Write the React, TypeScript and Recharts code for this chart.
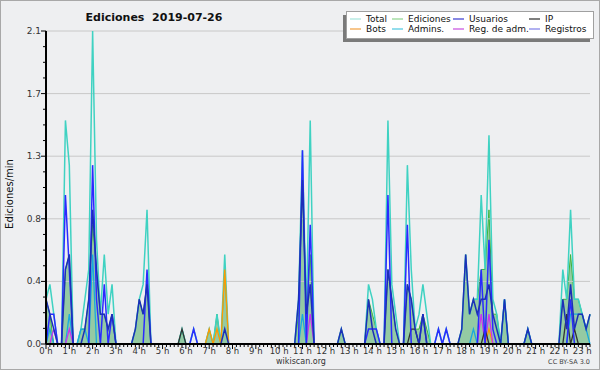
import { ComposedChart, Area, Line, XAxis, YAxis, ReferenceLine } from 'recharts';

// 10-minute slots from 0:00 to 23:20 (141 points), values in edits/min
const total = [
  0.3, 0.4, 0.2, 0, 0, 1.5, 1.2, 0, 0, 0.1, 0.3, 0.5,
  2.1, 0.7, 0.2, 0.6, 0.2, 0.4, 0, 0, 0, 0, 0, 0.1,
  0.3, 0.4, 0.9, 0, 0, 0, 0, 0, 0, 0, 0, 0.1,
  0, 0, 0.1, 0, 0, 0, 0.1, 0, 0.2, 0, 0.6, 0,
  0, 0, 0, 0, 0, 0, 0, 0, 0, 0, 0, 0,
  0, 0, 0, 0, 0, 0.3, 1.3, 0.2, 1.5, 0, 0, 0,
  0, 0, 0, 0, 0.1, 0, 0, 0, 0, 0, 0, 0.4,
  0.3, 0.1, 0, 0, 1.5, 0.4, 0.2, 0, 0, 1.2, 0.5, 0.1,
  0.2, 0.4, 0.2, 0, 0, 0.1, 0, 0.1, 0, 0, 0, 0.1,
  0.6, 0.2, 0.3, 0.3, 1.0, 0.5, 1.4, 0.3, 0.2, 0, 0.3, 0,
  0, 0, 0, 0, 0.1, 0, 0, 0, 0, 0, 0, 0,
  0, 0.5, 0.3, 0.9, 0.3, 0.3, 0.2, 0.1, 0.2,
];

const ediciones = [
  0.3, 0.2, 0, 0, 0, 0.5, 0.6, 0, 0, 0.1, 0.1, 0.3,
  0.8, 0.5, 0.2, 0.2, 0.1, 0.2, 0, 0, 0, 0, 0, 0.1,
  0.3, 0.2, 0.4, 0, 0, 0, 0, 0, 0, 0, 0, 0.1,
  0, 0, 0, 0, 0, 0, 0.1, 0, 0.2, 0, 0.5, 0,
  0, 0, 0, 0, 0, 0, 0, 0, 0, 0, 0, 0,
  0, 0, 0, 0, 0, 0.2, 1.1, 0.2, 0.6, 0, 0, 0,
  0, 0, 0, 0, 0.1, 0, 0, 0, 0, 0, 0, 0.3,
  0.2, 0.1, 0, 0, 0.5, 0.3, 0.1, 0, 0, 0.4, 0.3, 0.1,
  0.1, 0.2, 0.1, 0, 0, 0, 0, 0, 0, 0, 0, 0.1,
  0.6, 0.2, 0.3, 0.3, 0.5, 0.5, 0.9, 0.2, 0.2, 0, 0.3, 0,
  0, 0, 0, 0, 0.1, 0, 0, 0, 0, 0, 0, 0,
  0, 0.3, 0.3, 0.6, 0.3, 0.3, 0.2, 0.1, 0.2,
];

const usuarios = [
  0.3, 0.2, 0.1, 0, 0, 0.5, 0.6, 0, 0, 0, 0.1, 0.3,
  0.9, 0.5, 0.2, 0.2, 0.1, 0.2, 0, 0, 0, 0, 0, 0.1,
  0.3, 0.2, 0.4, 0, 0, 0, 0, 0, 0, 0, 0, 0,
  0, 0, 0, 0, 0, 0, 0, 0, 0, 0, 0.1, 0,
  0, 0, 0, 0, 0, 0, 0, 0, 0, 0, 0, 0,
  0, 0, 0, 0, 0, 0.3, 1.1, 0.2, 0.4, 0, 0, 0,
  0, 0, 0, 0, 0.1, 0, 0, 0, 0, 0, 0, 0.3,
  0.1, 0, 0, 0, 0.5, 0.3, 0.1, 0, 0, 0.4, 0.3, 0.1,
  0, 0.2, 0, 0, 0, 0, 0, 0, 0, 0, 0, 0.1,
  0.6, 0.2, 0.3, 0.2, 0.3, 0.3, 0.4, 0.2, 0.1, 0, 0.3, 0,
  0, 0, 0, 0, 0.1, 0, 0, 0, 0, 0, 0, 0,
  0, 0.3, 0.1, 0.4, 0.1, 0.2, 0.2, 0.1, 0.2,
];

const registros = [
  0, 0.2, 0.2, 0, 0, 1.0, 0.5, 0, 0, 0, 0, 0,
  1.2, 0.3, 0, 0.4, 0, 0.2, 0, 0, 0, 0, 0, 0,
  0, 0, 0.5, 0, 0, 0, 0, 0, 0, 0, 0, 0,
  0, 0, 0.1, 0, 0, 0, 0, 0, 0, 0, 0, 0,
  0, 0, 0, 0, 0, 0, 0, 0, 0, 0, 0, 0,
  0, 0, 0, 0, 0, 0, 1.3, 0, 0.8, 0, 0, 0,
  0, 0, 0, 0, 0, 0, 0, 0, 0, 0, 0, 0.1,
  0.1, 0.1, 0, 0, 1.0, 0, 0, 0, 0, 0.8, 0, 0,
  0, 0.2, 0, 0, 0, 0.1, 0, 0.1, 0, 0, 0, 0,
  0, 0, 0, 0, 0.5, 0, 0.7, 0.1, 0, 0, 0, 0,
  0, 0, 0, 0, 0, 0, 0, 0, 0, 0, 0, 0,
  0, 0, 0, 0.3, 0, 0, 0, 0, 0,
];

const ip = [
  0, 0, 0, 0, 0, 0, 0, 0, 0, 0, 0, 0,
  0, 0, 0, 0, 0, 0, 0, 0, 0, 0, 0, 0,
  0, 0, 0, 0, 0, 0, 0, 0, 0, 0, 0, 0.1,
  0, 0, 0, 0, 0, 0, 0, 0, 0, 0, 0, 0,
  0, 0, 0, 0, 0, 0, 0, 0, 0, 0, 0, 0,
  0, 0, 0, 0, 0, 0, 0, 0, 0, 0, 0, 0,
  0, 0, 0, 0, 0, 0, 0, 0, 0, 0, 0, 0,
  0, 0, 0, 0, 0, 0, 0, 0, 0, 0, 0.1, 0.1,
  0, 0, 0, 0, 0, 0, 0, 0, 0, 0, 0, 0,
  0, 0, 0, 0, 0, 0.1, 0, 0, 0, 0, 0, 0,
  0, 0, 0, 0, 0, 0, 0, 0, 0, 0, 0, 0,
  0, 0, 0.2, 0, 0.1, 0, 0, 0, 0,
];

const admins = [
  0, 0.1, 0, 0, 0, 0, 0.2, 0, 0, 0.1, 0.1, 0,
  0.6, 0, 0, 0, 0, 0, 0, 0, 0, 0, 0, 0,
  0, 0, 0, 0, 0, 0, 0, 0, 0, 0, 0, 0,
  0, 0, 0, 0, 0, 0, 0, 0, 0, 0, 0, 0,
  0, 0, 0, 0, 0, 0, 0, 0, 0, 0, 0, 0,
  0, 0, 0, 0, 0, 0, 0.2, 0, 0, 0, 0, 0,
  0, 0, 0, 0, 0, 0, 0, 0, 0, 0, 0, 0,
  0, 0, 0, 0, 0, 0, 0, 0, 0, 0, 0, 0,
  0, 0, 0, 0, 0, 0, 0, 0, 0, 0, 0, 0,
  0, 0, 0.1, 0, 0, 0, 0, 0, 0, 0, 0.3, 0,
  0, 0, 0, 0, 0.1, 0, 0, 0, 0, 0, 0, 0,
  0, 0, 0, 0.2, 0.2, 0.2, 0.2, 0.1, 0,
];

const bots = [
  0, 0, 0, 0, 0, 0, 0, 0, 0, 0, 0, 0,
  0, 0, 0, 0, 0, 0, 0, 0, 0, 0, 0, 0,
  0, 0, 0, 0, 0, 0, 0, 0, 0, 0, 0, 0,
  0, 0, 0, 0, 0, 0, 0.1, 0, 0.1, 0, 0.5, 0,
  0, 0, 0, 0, 0, 0, 0, 0, 0, 0, 0, 0,
  0, 0, 0, 0, 0, 0, 0, 0, 0, 0, 0, 0,
  0, 0, 0, 0, 0, 0, 0, 0, 0, 0, 0, 0,
  0, 0, 0, 0, 0, 0, 0, 0, 0, 0, 0, 0,
  0, 0, 0, 0, 0, 0, 0, 0, 0, 0, 0, 0,
  0, 0, 0, 0, 0, 0, 0.1, 0, 0, 0, 0, 0,
  0, 0, 0, 0, 0, 0, 0, 0, 0, 0, 0, 0,
  0, 0, 0, 0, 0, 0, 0, 0, 0,
];

const regAdm = [
  0, 0, 0.1, 0, 0, 0, 0.1, 0, 0, 0, 0, 0,
  0, 0, 0, 0, 0, 0, 0, 0, 0, 0, 0, 0,
  0, 0, 0, 0, 0, 0, 0, 0, 0, 0, 0, 0,
  0, 0, 0, 0, 0, 0, 0, 0, 0, 0, 0, 0,
  0, 0, 0, 0, 0, 0, 0, 0, 0, 0, 0, 0,
  0, 0, 0, 0, 0, 0, 0, 0, 0.2, 0, 0, 0,
  0, 0, 0, 0, 0, 0, 0, 0, 0, 0, 0, 0,
  0, 0, 0, 0, 0, 0, 0, 0, 0, 0, 0, 0,
  0, 0, 0, 0, 0, 0, 0, 0, 0, 0, 0, 0,
  0, 0, 0, 0, 0.2, 0, 0.2, 0, 0, 0, 0, 0,
  0, 0, 0, 0, 0, 0, 0, 0, 0, 0, 0, 0,
  0, 0, 0, 0, 0, 0, 0, 0, 0,
];

const hourLabels = [
  '0 h', '1 h', '2 h', '3 h', '4 h', '5 h', '6 h', '7 h', '8 h', '9 h', '10 h', '11 h',
  '12 h', '13 h', '14 h', '15 h', '16 h', '17 h', '18 h', '19 h', '20 h', '21 h', '22 h', '23 h',
];
const yMajor = [0, 0.42, 0.84, 1.26, 1.68, 2.1];
const yLabels = ['0.0', '0.4', '0.8', '1.3', '1.7', '2.1'];

const legendItems = [
  { name: 'Total', color: '#a6e4dc' },
  { name: 'Ediciones', color: '#8ed48e' },
  { name: 'Usuarios', color: '#3a3ad0' },
  { name: 'IP', color: '#2a2a2a' },
  { name: 'Bots', color: '#f2a040' },
  { name: 'Admins.', color: '#4cc6e0' },
  { name: 'Reg. de adm.', color: '#c64ee0' },
  { name: 'Registros', color: '#7d7de8' },
];

const data = total.map((v, i) => ({
  i,
  total: v,
  ediciones: ediciones[i],
  usuarios: usuarios[i],
  registros: registros[i],
  ip: ip[i],
  admins: admins[i],
  bots: bots[i],
  regAdm: regAdm[i],
}));

const xTicks = data.map((d) => d.i);
const yTicks = Array.from({ length: 21 }, (_, k) => +(k * 0.105).toFixed(3));

const FONT = 'DejaVu Sans, sans-serif';

const XTick = ({ x, y, payload }: any) => {
  const v = payload.value;
  const hour = v % 6 === 0;
  return (
    <g>
      <line x1={x} x2={x} y1={y} y2={y + (hour ? 5 : 3)} stroke="#000" />
      {hour && (
        <text x={x} y={y + 10} textAnchor="middle" fontSize={8.5} fontFamily={FONT} fill="#333">
          {hourLabels[v / 6]}
        </text>
      )}
    </g>
  );
};

const YTick = ({ x, y, index }: any) => {
  const major = index % 4 === 0;
  return (
    <g>
      <line x1={x - (major ? 5 : 3)} x2={x} y1={y} y2={y} stroke="#000" />
      {major && (
        <text x={x - 5} y={y + 3} textAnchor="end" fontSize={9} fontFamily={FONT} fill="#333">
          {yLabels[index / 4]}
        </text>
      )}
    </g>
  );
};

const colX = [350, 392, 453, 529];

export default function App() {
  return (
    <div style={{ position: 'absolute', left: 0, top: 0, width: 600, height: 370, background: '#eeeff1', boxSizing: 'border-box', border: '1px solid #a8a8a8' }}>
      <div style={{ position: 'absolute', left: -1, top: -1 }}>
        <ComposedChart width={600} height={370} data={data} margin={{ top: 31, right: 10, bottom: 0, left: 0 }}>
          {yMajor.slice(1).map((v) => (
            <ReferenceLine key={v} y={v} stroke="#c8c8c8" strokeWidth={1} />
          ))}
          <XAxis
            type="number"
            dataKey="i"
            domain={[0, 140]}
            ticks={xTicks}
            interval={0}
            height={26}
            tickSize={0}
            tickMargin={0}
            tick={<XTick />}
            axisLine={{ stroke: '#000', strokeWidth: 2 }}
          />
          <YAxis
            type="number"
            domain={[0, 2.1]}
            ticks={yTicks}
            interval={0}
            width={46}
            tickSize={0}
            tickMargin={0}
            tick={<YTick />}
            axisLine={{ stroke: '#000', strokeWidth: 2 }}
          />
          <Area type="linear" dataKey="ediciones" stroke="#3cb43c" strokeWidth={1} fill="#3aa655" fillOpacity={0.5} isAnimationActive={false} dot={false} />
          <Line type="linear" dataKey="total" stroke="#3fd2c2" strokeWidth={1.5} dot={false} isAnimationActive={false} />
          <Line type="linear" dataKey="admins" stroke="#18aade" strokeWidth={1.3} dot={false} isAnimationActive={false} />
          <Line type="linear" dataKey="bots" stroke="#ff9a00" strokeWidth={1.3} dot={false} isAnimationActive={false} />
          <Line type="linear" dataKey="regAdm" stroke="#cc33ee" strokeWidth={1.3} dot={false} isAnimationActive={false} />
          <Line type="linear" dataKey="ip" stroke="#333333" strokeWidth={1.3} dot={false} isAnimationActive={false} />
          <Line type="linear" dataKey="registros" stroke="#2a2aff" strokeWidth={1.5} dot={false} isAnimationActive={false} />
          <Line type="linear" dataKey="usuarios" stroke="#1c2fb8" strokeWidth={1.5} dot={false} isAnimationActive={false} />
        </ComposedChart>
      </div>
      <svg width={600} height={370} style={{ position: 'absolute', left: -1, top: -1, pointerEvents: 'none' }}>
        <text x={154} y={21} textAnchor="middle" fontSize={11} fontWeight="bold" fontFamily={FONT} fill="#111" style={{ whiteSpace: 'pre' }}>
          {'Ediciones  2019-07-26'}
        </text>
        <text transform="translate(13,194) rotate(-90)" textAnchor="middle" fontSize={10} fontFamily={FONT} fill="#111">
          Ediciones/min
        </text>
        <text x={301} y={364} textAnchor="middle" fontSize={8} fontFamily={FONT} fill="#333">wikiscan.org</text>
        <text x={590} y={364} textAnchor="end" fontSize={6.5} fontFamily={FONT} fill="#444">CC BY-SA 3.0</text>
        <rect x={343} y={15} width={247} height={27} fill="#7a7a7a" />
        <rect x={346.5} y={11.5} width={247} height={27} fill="#fff" stroke="#a0a0a0" />
        {legendItems.map((it, k) => {
          const col = k % 4;
          const row = Math.floor(k / 4);
          const cy = 19 + row * 10;
          const sx = colX[col];
          return (
            <g key={it.name}>
              <line x1={sx} x2={sx + 11} y1={cy} y2={cy} stroke={it.color} strokeWidth={1.2} />
              <text x={sx + 16} y={cy + 3.3} fontSize={9} fontFamily={FONT} fill="#111">{it.name}</text>
            </g>
          );
        })}
      </svg>
    </div>
  );
}
